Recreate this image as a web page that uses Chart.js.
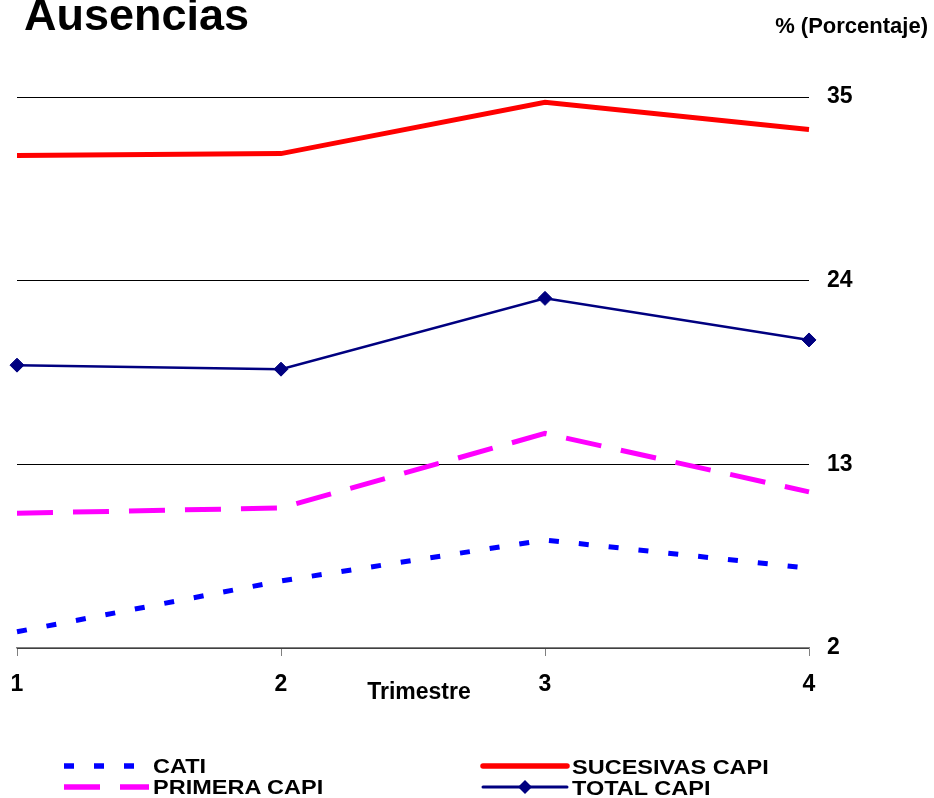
<!DOCTYPE html>
<html>
<head>
<meta charset="utf-8">
<script src="https://cdn.jsdelivr.net/npm/chart.js@4"></script>
<style>
  body { margin: 0; background: #fff; }
  #wrap { position: relative; width: 934px; height: 798px; overflow: hidden; }
  #chart { position: absolute; left: 0; top: 0; }
  #overlay { position: absolute; left: 0; top: 0; pointer-events: none; }
  text { font-family: "Liberation Sans", Arial, sans-serif; font-weight: bold; fill: #000; }
</style>
</head>
<body>
<div id="wrap">
  <canvas id="chart" width="934" height="798"></canvas>
  <svg id="overlay" width="934" height="798" xmlns="http://www.w3.org/2000/svg">
    <text x="24" y="30" font-size="45">Ausencias</text>
    <text x="928" y="33" font-size="22" text-anchor="end">% (Porcentaje)</text>
    <text x="419" y="699" font-size="23" text-anchor="middle">Trimestre</text>
    <g id="legend"></g>
  </svg>
</div>
<script>
// Quarters on the x axis
const trimestres = ['1', '2', '3', '4'];

// Percentages
const cati = [2.97, 6.02, 8.47, 6.78];
const primeraCapi = [10.07, 10.39, 14.85, 11.35];
const sucesivasCapi = [31.49, 31.61, 34.68, 33.06];
const totalCapi = [18.94, 18.70, 22.94, 20.45];

// Y axis ticks
const yTicks = [2, 13, 24, 35];

const fontFamily = '"Liberation Sans", Arial, sans-serif';

const datasets = [
    {
        label: 'CATI',
        data: cati,
        borderColor: '#0000FF',
        borderWidth: 5,
        borderDash: [10, 20],
        pointRadius: 0
    },
    {
        label: 'PRIMERA CAPI',
        data: primeraCapi,
        borderColor: '#FF00FF',
        borderWidth: 5,
        borderDash: [36, 20],
        pointRadius: 0
    },
    {
        label: 'SUCESIVAS CAPI',
        data: sucesivasCapi,
        borderColor: '#FF0000',
        borderWidth: 5,
        pointRadius: 0
    },
    {
        label: 'TOTAL CAPI',
        data: totalCapi,
        borderColor: '#000080',
        backgroundColor: '#000080',
        borderWidth: 2.5,
        pointStyle: 'rectRot',
        pointRadius: 7,
        pointBorderWidth: 1
    }
];

const chart = new Chart(document.getElementById('chart').getContext('2d'), {
    type: 'line',
    data: { labels: trimestres, datasets: datasets },
    options: {
        responsive: false,
        animation: false,
        devicePixelRatio: 1,
        layout: { padding: { left: 17, right: 0, top: 97, bottom: 90 } },
        elements: { line: { tension: 0, borderCapStyle: 'butt' } },
        plugins: {
            legend: { display: false },
            tooltip: { enabled: false }
        },
        scales: {
            x: {
                offset: false,
                grid: {
                    drawOnChartArea: false,
                    drawTicks: true,
                    tickLength: 8,
                    color: '#808080'
                },
                border: { display: true, color: '#808080', width: 1.5 },
                ticks: {
                    color: '#000',
                    padding: 15,
                    maxRotation: 0,
                    font: { family: fontFamily, size: 23, weight: 'bold' }
                },
                afterFit: function(scale) {
                    scale.height = 60;
                    // tick padding would otherwise push the plot to the right
                    scale.paddingLeft = 0;
                    scale.paddingRight = 0;
                }
            },
            y: {
                position: 'right',
                min: yTicks[0],
                max: yTicks[yTicks.length - 1],
                afterBuildTicks: function(scale) {
                    scale.ticks = yTicks.map(v => ({ value: v }));
                },
                grid: { color: '#000', lineWidth: 1, drawTicks: false },
                border: { display: false },
                ticks: {
                    color: '#000',
                    padding: 18,
                    font: { family: fontFamily, size: 23, weight: 'bold' }
                },
                afterFit: function(scale) { scale.width = 125; }
            }
        }
    }
});

// Legend drawn as SVG, built from the chart's datasets
function buildLegend() {
    const ns = 'http://www.w3.org/2000/svg';
    const g = document.getElementById('legend');
    const slots = [
        { x1: 64, x2: 137, tx: 153, ly: 766, ty: 773 },
        { x1: 64, x2: 149, tx: 153, ly: 787, ty: 794 },
        { x1: 483, x2: 567, tx: 572, ly: 766, ty: 774 },
        { x1: 483, x2: 567, tx: 572, ly: 787, ty: 795 }
    ];
    chart.data.datasets.forEach((ds, i) => {
        const s = slots[i];
        const line = document.createElementNS(ns, 'line');
        line.setAttribute('x1', s.x1);
        line.setAttribute('x2', s.x2);
        line.setAttribute('y1', s.ly);
        line.setAttribute('y2', s.ly);
        line.setAttribute('stroke', ds.borderColor);
        line.setAttribute('stroke-width', ds.borderWidth + 0.5);
        if (ds.borderDash) line.setAttribute('stroke-dasharray', ds.borderDash.join(' '));
        else line.setAttribute('stroke-linecap', 'round');
        g.appendChild(line);

        if (ds.pointStyle === 'rectRot') {
            const cx = (s.x1 + s.x2) / 2, r = ds.pointRadius;
            const poly = document.createElementNS(ns, 'polygon');
            poly.setAttribute('points', `${cx},${s.ly - r} ${cx + r},${s.ly} ${cx},${s.ly + r} ${cx - r},${s.ly}`);
            poly.setAttribute('fill', ds.backgroundColor);
            g.appendChild(poly);
        }

        const t = document.createElementNS(ns, 'text');
        t.setAttribute('font-size', '21');
        t.setAttribute('transform', `translate(${s.tx},${s.ty}) scale(1.12,1)`);
        t.textContent = ds.label;
        g.appendChild(t);
    });
}

buildLegend();
</script>
</body>
</html>
